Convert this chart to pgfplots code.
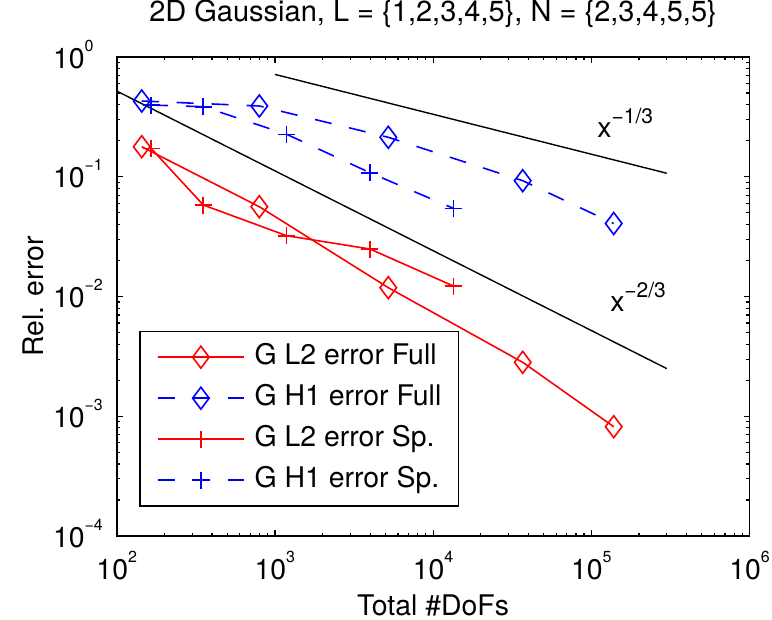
\documentclass[border=0pt]{standalone}
\usepackage{fontspec}
\setmainfont{TeX Gyre Heros}
\usepackage{pgfplots}
\pgfplotsset{compat=1.18}
\usetikzlibrary{calc}

\definecolor{mred}{RGB}{255,0,0}
\definecolor{mblue}{RGB}{0,0,255}
\newcommand{\sps}[1]{\raisebox{8.5pt}{\fontsize{8}{9}\selectfont #1}}
\newcommand{\ysps}[1]{10\rlap{\sps{#1}}}
\newcommand{\pw}[1]{x\raisebox{7pt}{\fontsize{10.5}{11}\selectfont #1}}

\begin{document}
\begin{tikzpicture}[font=\fontsize{14.2}{17}\selectfont]
\begin{axis}[
    scale only axis,
    width=316.4pt, height=239.5pt,
    xmode=log, ymode=log,
    xmin=1e2, xmax=1e6, ymin=1e-4, ymax=1,
    xtick={1e2,1e3,1e4,1e5,1e6},
    xticklabels={10\sps{2},10\sps{3},10\sps{4},10\sps{5},10\sps{6}},
    ytick={1e-4,1e-3,1e-2,1e-1,1},
    yticklabels={\ysps{−4},\ysps{−3},\ysps{−2},\ysps{−1},\ysps{0}},
    xticklabel style={anchor=base, inner sep=0pt, yshift=-21.7pt},
    yticklabel style={anchor=base east, inner sep=0pt, xshift=-15.85pt, yshift=-5.5pt},
    tick align=inside, xtick pos=both, ytick pos=both,
    major tick length=3pt, minor tick length=1.6pt,
    every tick/.style={black, line width=0.6pt},
    axis line style={line width=0.8pt},
    title={2D Gaussian, L = \{1,2,3,4,5\}, N = \{2,3,4,5,5\}},
    title style={at={(axis description cs:0.5,1.0501)}, anchor=base, inner sep=0pt,
        font=\fontsize{14.5}{17}\selectfont},
    xlabel={Total \#DoFs},
    xlabel style={at={(axis description cs:0.5,-0.1649)}, anchor=base, inner sep=0pt},
    ylabel={Rel. error},
    ylabel style={at={(axis description cs:-0.1154,0.5)}, anchor=base, inner sep=0pt},
    legend cell align=left,
    legend image code/.code={\draw[mark repeat=2,mark phase=2,#1,draw=.] plot coordinates {(0pt,0pt) (21.5pt,0pt) (43pt,0pt)};},
    legend style={at={(axis description cs:0.0357,0.0612)}, anchor=south west,
        draw=black, line width=0.8pt, inner xsep=8.5pt, inner ysep=6.1pt,
        nodes={inner sep=0pt, text height=10.5pt, text depth=3pt},
        row sep=7pt,
        /tikz/every odd column/.append style={column sep=5pt}},
]
% G L2 error Full
\addplot[mred, line width=0.8pt, mark=diamond, mark size=5.5pt] coordinates {
    (144,0.1782) (797,0.05623) (5211,0.01185) (36850,0.002822) (138600,0.000818)
};
\addlegendentry{G L2 error Full}
% G H1 error Full
\addplot[mblue, line width=0.8pt, dash pattern=on 8.5pt off 9pt, mark=diamond, mark size=5.5pt, mark options={solid}] coordinates {
    (144,0.429) (797,0.390) (5211,0.2135) (36850,0.0927) (138600,0.0407)
};
\addlegendentry{G H1 error Full}
% G L2 error Sp.
\addplot[mred, line width=0.8pt, mark=+, mark size=4.25pt] coordinates {
    (164.8,0.1728) (352.7,0.05807) (1187,0.03219) (3991,0.02493) (13420,0.01224)
};
\addlegendentry{G L2 error Sp.}
% G H1 error Sp.
\addplot[mblue, line width=0.8pt, dash pattern=on 8.5pt off 9pt, mark=+, mark size=4.25pt, mark options={solid}] coordinates {
    (164.8,0.3973) (352.7,0.3846) (1187,0.2262) (3991,0.1081) (13420,0.05451)
};
\addlegendentry{G H1 error Sp.}
% slopes
\addplot[black, line width=0.7pt, forget plot] coordinates {(1000,0.716) (3e5,0.107)};
\addplot[black, line width=0.7pt, forget plot] coordinates {(100,0.52) (3e5,0.0025)};
\node[anchor=base west, inner sep=0pt] at (axis cs:1.087e5,0.2147) {\pw{−1/3}};
\node[anchor=base west, inner sep=0pt] at (axis cs:1.31e5,0.00746) {\pw{−2/3}};
\coordinate (sw) at (rel axis cs:0,0);
\coordinate (ne) at (rel axis cs:1,1);
\end{axis}
\pgfresetboundingbox
\path ($(sw)+(-58.35pt,-41.5pt)$) rectangle ($(ne)+(11.25pt,28.5pt)$);
\end{tikzpicture}
\end{document}
